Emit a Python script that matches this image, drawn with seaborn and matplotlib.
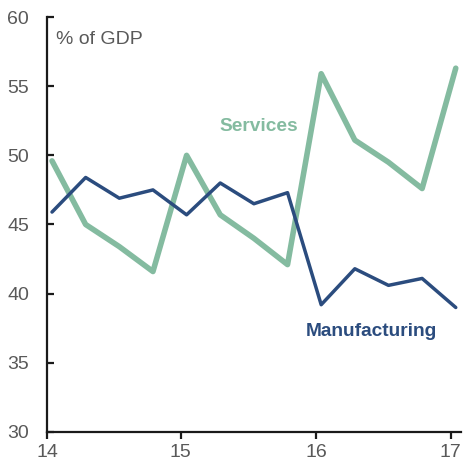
import numpy as np
import pandas as pd
import seaborn as sns
import matplotlib
matplotlib.use("Agg")
import matplotlib.pyplot as plt

# quarterly shares, 2014Q1 .. 2017Q1
quarters = list(range(13))
manufacturing = [45.9, 48.4, 46.9, 47.5, 45.7, 48.0, 46.5, 47.3, 39.2, 41.8, 40.6, 41.1, 39.0]
services = [49.6, 45.0, 43.4, 41.6, 50.0, 45.7, 44.0, 42.1, 55.9, 51.1, 49.5, 47.6, 56.3]
year_labels = ["14", "15", "16", "17"]

MANU_COLOR = "#2b4c7e"
SERV_COLOR = "#84bba0"
GREY = "#595959"

df = pd.DataFrame({
    "quarter": quarters * 2,
    "value": manufacturing + services,
    "series": ["Manufacturing"] * len(quarters) + ["Services"] * len(quarters),
})

sns.set_style("white")
plt.rcParams["font.family"] = ["Liberation Sans", "DejaVu Sans"]

fig = plt.figure(figsize=(4.65, 4.66), dpi=100)
ax = fig.add_axes([0.101, 0.073, 0.890, 0.8905])

sns.lineplot(data=df[df.series == "Services"], x="quarter", y="value", ax=ax,
             color=SERV_COLOR, linewidth=4.0, legend=False)
sns.lineplot(data=df[df.series == "Manufacturing"], x="quarter", y="value", ax=ax,
             color=MANU_COLOR, linewidth=2.5, legend=False)

ax.set_xlim(-0.15, 12.15)
ax.set_ylim(30, 60)
ax.set_yticks(np.arange(30, 61, 5))
ax.set_xticks([-0.15, 3.82, 7.85, 11.85])
ax.set_xticklabels(year_labels)
ax.set_xlabel("")
ax.set_ylabel("")

sns.despine(ax=ax)
for s in ["left", "bottom"]:
    ax.spines[s].set_color("#1a1a1a")
    ax.spines[s].set_linewidth(1.6)

ax.tick_params(axis="y", direction="in", length=5, width=1.6, color="#1a1a1a",
               labelsize=14, labelcolor=GREY, pad=13, left=True)
ax.tick_params(axis="x", direction="out", length=5, width=1.6, color="#1a1a1a",
               labelsize=14, labelcolor=GREY, pad=4, bottom=True)

ax.text(0.023, 0.945, "% of GDP", transform=ax.transAxes, fontsize=14,
        color=GREY, va="center", ha="left")
ax.text(6.15, 52.1, "Services", fontsize=13.8, fontweight="bold",
        color=SERV_COLOR, ha="center", va="center")
ax.text(9.48, 37.3, "Manufacturing", fontsize=13.8, fontweight="bold",
        color=MANU_COLOR, ha="center", va="center")

fig.savefig("out.png", dpi=100)
